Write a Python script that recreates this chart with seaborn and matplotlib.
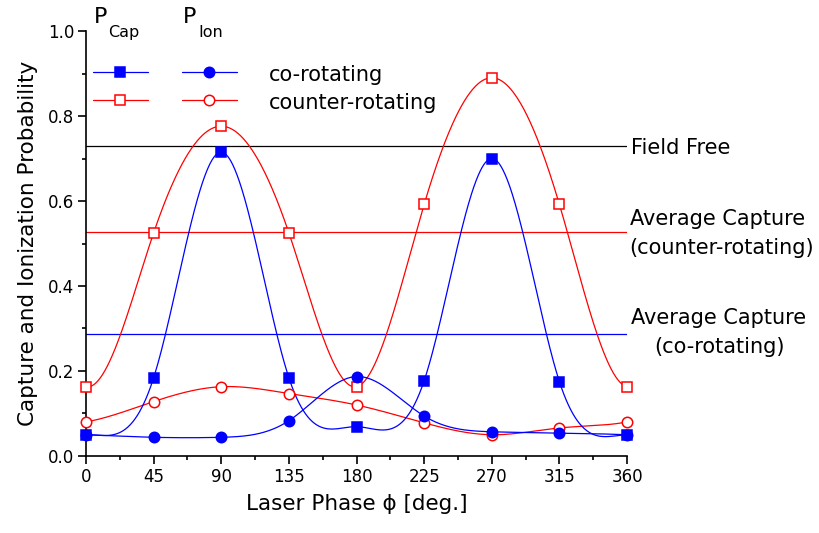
import numpy as np
import pandas as pd
import matplotlib
matplotlib.use("Agg")
import matplotlib.pyplot as plt
import seaborn as sns
from matplotlib.ticker import MultipleLocator, FormatStrFormatter

# ---- data ----
phase = [0, 45, 90, 135, 180, 225, 270, 315, 360]
cap_co = [0.050, 0.184, 0.715, 0.184, 0.069, 0.177, 0.700, 0.175, 0.050]
ion_co = [0.050, 0.044, 0.044, 0.083, 0.187, 0.094, 0.057, 0.054, 0.050]
cap_counter = [0.163, 0.525, 0.776, 0.525, 0.163, 0.592, 0.890, 0.592, 0.163]
ion_counter = [0.080, 0.128, 0.163, 0.147, 0.120, 0.078, 0.050, 0.066, 0.080]
field_free = 0.730
avg_cap_counter = 0.526
avg_cap_co = 0.287
x_ticks = [0, 45, 90, 135, 180, 225, 270, 315, 360]


def periodic_spline(x, y, xs):
    """Periodic cubic spline through (x, y), y[0] == y[-1]."""
    x = np.asarray(x, float); y = np.asarray(y, float)
    m = len(x) - 1
    h = np.diff(x)
    A = np.zeros((m, m)); b = np.zeros(m)
    for i in range(m):
        hp = h[i - 1]; hn = h[i]
        yp = y[i - 1] if i > 0 else y[m - 1]
        yn = y[i + 1]
        A[i, (i - 1) % m] += hp
        A[i, i] += 2 * (hp + hn)
        A[i, (i + 1) % m] += hn
        b[i] = 6 * ((yn - y[i]) / hn - (y[i] - yp) / hp)
    M = np.linalg.solve(A, b)
    M = np.append(M, M[0])
    idx = np.clip(np.searchsorted(x, xs) - 1, 0, m - 1)
    x0, x1 = x[idx], x[idx + 1]
    hh = x1 - x0
    t0 = x1 - xs; t1 = xs - x0
    return (M[idx] * t0**3 / (6 * hh) + M[idx + 1] * t1**3 / (6 * hh)
            + (y[idx] / hh - M[idx] * hh / 6) * t0
            + (y[idx + 1] / hh - M[idx + 1] * hh / 6) * t1)


sns.set_theme(style="ticks")
plt.rcParams['font.family'] = ['DejaVu Sans']
plt.rcParams['text.color'] = 'black'
plt.rcParams['axes.labelcolor'] = 'black'

fig = plt.figure(figsize=(8.19, 5.33), dpi=100)
ax = fig.add_axes([0.105, 0.1445, 0.6606, 0.7973])

BLUE = (0, 0, 1)
RED = (1, 0, 0)
LW = 0.9
FS = 15

xs = np.linspace(0, 360, 721)
series = [
    (cap_counter, RED, 's', 'white'),
    (ion_counter, RED, 'o', 'white'),
    (ion_co, BLUE, 'o', BLUE),
    (cap_co, BLUE, 's', BLUE),
]

# horizontal reference lines
ax.axhline(field_free, color='black', lw=LW, zorder=1)
ax.axhline(avg_cap_counter, color=RED, lw=LW, zorder=1)
ax.axhline(avg_cap_co, color=BLUE, lw=LW, zorder=1)

for vals, col, mk, fc in series:
    df = pd.DataFrame({'phase': xs, 'p': periodic_spline(phase, vals, xs)})
    sns.lineplot(data=df, x='phase', y='p', ax=ax, color=col, lw=LW, zorder=2)
for vals, col, mk, fc in series:
    ax.plot(phase, vals, ls='none', marker=mk, ms=7.5, mfc=fc, mec=col,
            mew=1.1, zorder=3, clip_on=False)

ax.set_xlim(0, 360)
ax.set_ylim(0, 1.0)
ax.set_xticks(x_ticks)
ax.xaxis.set_minor_locator(MultipleLocator(22.5))
ax.yaxis.set_major_locator(MultipleLocator(0.2))
ax.yaxis.set_minor_locator(MultipleLocator(0.1))
ax.yaxis.set_major_formatter(FormatStrFormatter('%.1f'))
ax.tick_params(which='major', direction='out', length=5.5, width=1.2,
               labelsize=12, color='black', labelcolor='black', pad=3)
ax.tick_params(which='minor', direction='out', length=3, width=1.2, color='black')
for s in ['top', 'right']:
    ax.spines[s].set_visible(False)
for s in ['left', 'bottom']:
    ax.spines[s].set_linewidth(1.2)
    ax.spines[s].set_color('black')

ax.set_xlabel('Laser Phase \u03d5 [deg.]', fontsize=15.5, labelpad=6)
ax.set_ylabel('Capture and Ionization Probability', fontsize=15.5, labelpad=7)

# custom legend
T = ax.transAxes
for yrow, (col, fc) in zip([0.9035, 0.8376], [(BLUE, BLUE), (RED, 'white')]):
    ax.plot([0.013, 0.115], [yrow, yrow], color=col, lw=LW, transform=T, clip_on=False)
    ax.plot([0.0637], [yrow], marker='s', ms=7.5, mfc=fc, mec=col, mew=1.1, transform=T, clip_on=False)
    ax.plot([0.177, 0.279], [yrow, yrow], color=col, lw=LW, transform=T, clip_on=False)
    ax.plot([0.228], [yrow], marker='o', ms=7.5, mfc=fc, mec=col, mew=1.1, transform=T, clip_on=False)
ax.text(0.338, 0.882, 'co-rotating', transform=T, fontsize=FS, va='baseline', ha='left')
ax.text(0.338, 0.816, 'counter-rotating', transform=T, fontsize=FS, va='baseline', ha='left')
ax.text(0.0148, 1.019, 'P', transform=T, fontsize=16, va='baseline', ha='left')
ax.text(0.0407, 0.986, 'Cap', transform=T, fontsize=11.5, va='baseline', ha='left')
ax.text(0.179, 1.019, 'P', transform=T, fontsize=16, va='baseline', ha='left')
ax.text(0.208, 0.986, 'Ion', transform=T, fontsize=11.5, va='baseline', ha='left')

# right-side annotations
YT = ax.get_yaxis_transform()
ax.text(1.008, 0.710, 'Field Free', transform=YT, fontsize=FS, va='baseline', ha='left')
ax.text(1.005, 0.5435, 'Average Capture', transform=YT, fontsize=FS, va='baseline', ha='left')
ax.text(1.005, 0.475, '(counter-rotating)', transform=YT, fontsize=FS, va='baseline', ha='left')
ax.text(1.17, 0.3106, 'Average Capture', transform=YT, fontsize=FS, va='baseline', ha='center')
ax.text(1.17, 0.2424, '(co-rotating)', transform=YT, fontsize=FS, va='baseline', ha='center')

fig.savefig('out.png', dpi=100)
